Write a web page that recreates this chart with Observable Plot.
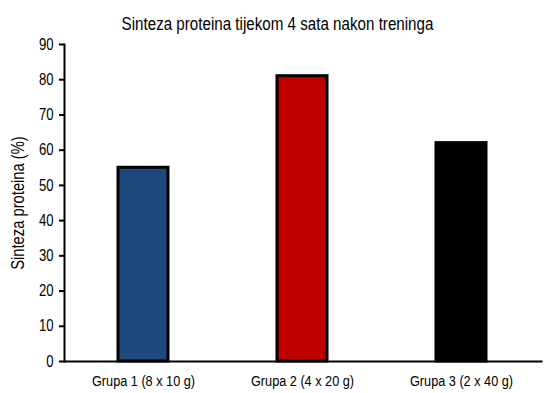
<!DOCTYPE html>
<html>
<head>
<meta charset="utf-8">
<script src="https://cdn.jsdelivr.net/npm/d3@7"></script>
<script src="https://cdn.jsdelivr.net/npm/@observablehq/plot@0.6"></script>
<style>
  html, body { margin: 0; padding: 0; background: #fff; }
  svg { display: block; }
</style>
</head>
<body>
<div id="chart"></div>
<script>
const title = "Sinteza proteina tijekom 4 sata nakon treninga";
const yLabel = "Sinteza proteina (%)";
const categories = ["Grupa 1 (8 x 10 g)", "Grupa 2 (4 x 20 g)", "Grupa 3 (2 x 40 g)"];
const values = [55, 81, 62];
const colors = ["#1F497D", "#C00000", "#000000"];
const yTicks = [0, 10, 20, 30, 40, 50, 60, 70, 80, 90];

const data = categories.map((c, i) => ({category: c, value: values[i], color: colors[i]}));
const font = "'Liberation Sans', Arial, sans-serif";
const narrow = 0.82;

const chart = Plot.plot({
  width: 554,
  height: 393,
  marginLeft: 64,
  marginRight: 13,
  marginTop: 44,
  marginBottom: 32,
  style: {fontFamily: font, fontSize: "15px", color: "#000", background: "#fff"},
  x: {domain: categories, paddingInner: 0.685, paddingOuter: 0.3425, label: null},
  y: {domain: [0, 90], ticks: yTicks, label: null},
  marks: [
    Plot.barY(data, {x: "category", y: "value", fill: "color", stroke: "#000", strokeWidth: 3}),
    Plot.frame({anchor: "left", stroke: "#000", strokeWidth: 2}),
    Plot.frame({anchor: "bottom", stroke: "#000", strokeWidth: 2}),
    Plot.axisY({ticks: yTicks, tickSize: 5, tickPadding: 6, strokeWidth: 2, fontSize: 16, label: null}),
    Plot.axisX({tickSize: 0, tickPadding: 13, fontSize: 15.5, label: null}),
    Plot.text([yLabel], {frameAnchor: "left", dx: -46, rotate: -90, textAnchor: "middle", fontSize: 18, fill: "#000"}),
    Plot.text([title], {frameAnchor: "top", dx: -25.5, dy: -28, fontSize: 18.5, fill: "#000"})
  ]
});

// Emulate the condensed (Arial Narrow) face by compressing text horizontally around its anchor.
chart.querySelectorAll("text").forEach(t => {
  const tr = t.getAttribute("transform");
  if (tr) {
    t.setAttribute("transform", tr + ` scale(${narrow},1)`);
  } else {
    const x = +(t.getAttribute("x") || 0), y = +(t.getAttribute("y") || 0);
    t.removeAttribute("x"); t.removeAttribute("y");
    t.setAttribute("transform", `translate(${x},${y}) scale(${narrow},1)`);
  }
});
document.getElementById("chart").appendChild(chart);
</script>
</body>
</html>
